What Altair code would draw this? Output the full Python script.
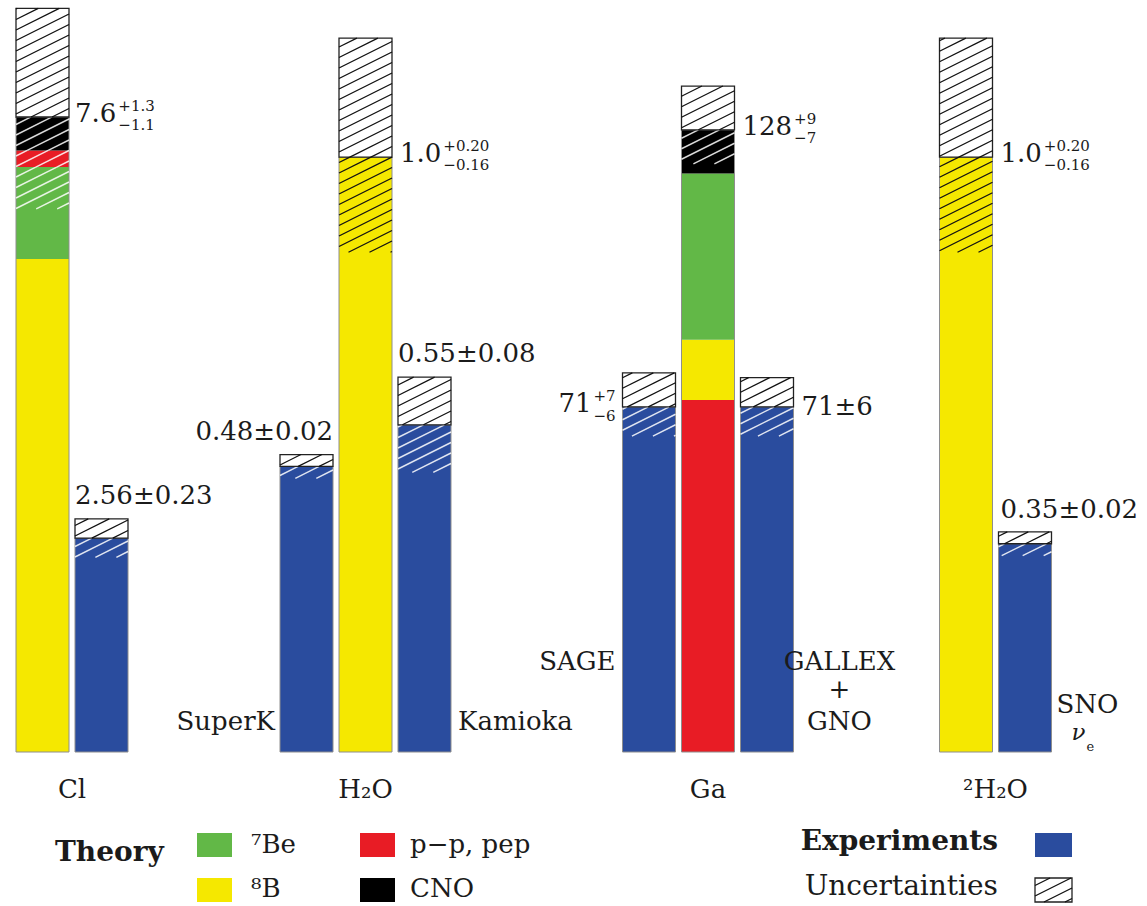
import math
import altair as alt
import pandas as pd

# ------------------------------------------------------------------ data
targets = ["Cl", "H2O", "Ga", "2H2O"]
target_labels = ["Cl", "H₂O", "Ga", "²H₂O"]
# value reached at the top of each target's column
# (SNU for Cl and Ga, fraction of the SSM flux for the water detectors)
frame_top = [9.0, 1.264, 154.7, 1.264]

# standard solar model predictions, components listed bottom to top
cl_parts = ["8B", "7Be", "pp", "CNO"]
cl_part_values = [5.9, 1.1, 0.2, 0.4]
h2o_parts = ["8B"]
h2o_part_values = [1.0]
ga_parts = ["pp", "8B", "7Be", "CNO"]
ga_part_values = [72.4, 12.4, 34.2, 9.0]
d2o_parts = ["8B"]
d2o_part_values = [1.0]

theory_total = [7.6, 1.0, 128, 1.0]
theory_err_up = [1.3, 0.20, 9, 0.20]
theory_err_dn = [1.1, 0.16, 7, 0.16]
theory_decimals = [1, 1, 0, 1]
theory_err_decimals = [1, 2, 0, 2]

# measurements
exp_ids = ["Homestake", "SuperK", "Kamioka", "SAGE", "GALLEX+GNO", "SNO"]
exp_target = ["Cl", "H2O", "H2O", "Ga", "Ga", "2H2O"]
exp_value = [2.56, 0.48, 0.55, 71, 71, 0.35]
exp_err_up = [0.23, 0.02, 0.08, 7, 6, 0.02]
exp_err_dn = [0.23, 0.02, 0.08, 6, 6, 0.02]
exp_decimals = [2, 2, 2, 0, 0, 2]

part_names = ["7Be", "8B", "pp", "CNO", "exp"]
part_colors = ["#62b847", "#f5e800", "#e81c25", "#000000", "#2a4c9e"]

# ------------------------------------------------------------------ layout
W, H = 1147, 906
BASE = 752                      # canvas px from the top down to the common bar base
TARGET_X = [72, 365.5, 708, 995.5]
THEORY_SLOT = [-0.5, 0, 0, -0.5]
EXP_SLOT = [0.5, -1, 1, -1, 1, 0.5]
PITCH, BAR_W = 59, 53
HATCH_SLOPE, HATCH_GAP = 0.5, 10.5
FONT = "DejaVu Serif"
INK = "#1b1b1b"
FS = 26        # main label size
FS_SMALL = 15  # exponent-style error labels

xs = alt.Scale(domain=[0, W], nice=False, zero=False)
ys = alt.Scale(domain=[BASE - H, BASE], nice=False, zero=False)

parts_by_target = [cl_parts, h2o_parts, ga_parts, d2o_parts]
values_by_target = [cl_part_values, h2o_part_values, ga_part_values, d2o_part_values]


def hgt(value, t):
    """Height of a value inside the column of target t."""
    return value / frame_top[t] * BASE


def hatch(x0, x1, y0, y1, ink):
    segs = []
    k0 = math.floor((y0 - HATCH_SLOPE * x1) / HATCH_GAP)
    k1 = math.ceil((y1 - HATCH_SLOPE * x0) / HATCH_GAP)
    for k in range(k0, k1 + 1):
        c = k * HATCH_GAP
        xa = max(x0, (y0 - c) / HATCH_SLOPE)
        xb = min(x1, (y1 - c) / HATCH_SLOPE)
        if xb - xa > 0.6:
            segs.append(dict(x=xa, y=c + HATCH_SLOPE * xa, x2=xb, y2=c + HATCH_SLOPE * xb, ink=ink))
    return segs


def fmt(v, d):
    return f"{v:.{d}f}"


rects, outlines, boxes, hatches = [], [], [], []
texts_left, texts_right, texts_center = [], [], []
small_left, small_right = [], []
nu_rows, sub_e = [], []

# theory columns
for t, name in enumerate(targets):
    cx = TARGET_X[t] + THEORY_SLOT[t] * PITCH
    x0, x1 = cx - BAR_W / 2, cx + BAR_W / 2
    acc = 0.0
    segs = []
    for p, v in zip(parts_by_target[t], values_by_target[t]):
        y0, y1 = hgt(acc, t), hgt(acc + v, t)
        rects.append(dict(x=x0, x2=x1, y=y0, y2=y1, part=p))
        segs.append((y0, y1, p))
        acc += v
    top = hgt(theory_total[t], t)
    lo = hgt(theory_total[t] - theory_err_dn[t], t)
    hi = hgt(theory_total[t] + theory_err_up[t], t)
    outlines.append(dict(x=x0, x2=x1, y=0, y2=top))
    for y0, y1, p in segs:
        a, b = max(y0, lo), min(y1, top)
        if b > a:
            hatches += hatch(x0, x1, a, b, "#000000" if p == "8B" else "#ffffff")
    boxes.append(dict(x=x0, x2=x1, y=top, y2=hi))
    hatches += hatch(x0, x1, top, hi, "#000000")
    main = fmt(theory_total[t], theory_decimals[t])
    lx = x1 + (6 if t == 0 else 8)
    texts_left.append(dict(x=lx, y=top + 3, text=main))
    ndig = sum(ch.isdigit() for ch in main)
    wmain = FS * (0.636 * ndig + 0.318 * (len(main) - ndig))
    small_left.append(dict(x=lx + wmain + 2, y=top + 11,
                           text="+" + fmt(theory_err_up[t], theory_err_decimals[t])))
    small_left.append(dict(x=lx + wmain + 2, y=top - 8,
                           text="−" + fmt(theory_err_dn[t], theory_err_decimals[t])))
    texts_center.append(dict(x=TARGET_X[t], y=-38, text=target_labels[t]))

# measured columns
for i, eid in enumerate(exp_ids):
    t = targets.index(exp_target[i])
    cx = TARGET_X[t] + EXP_SLOT[i] * PITCH
    x0, x1 = cx - BAR_W / 2, cx + BAR_W / 2
    top = hgt(exp_value[i], t)
    lo = hgt(exp_value[i] - exp_err_dn[i], t)
    hi = hgt(exp_value[i] + exp_err_up[i], t)
    rects.append(dict(x=x0, x2=x1, y=0, y2=top, part="exp"))
    outlines.append(dict(x=x0, x2=x1, y=0, y2=top))
    hatches += hatch(x0, x1, lo, top, "#ffffff")
    boxes.append(dict(x=x0, x2=x1, y=top, y2=hi))
    hatches += hatch(x0, x1, top, hi, "#000000")
    d = exp_decimals[i]
    sym = fmt(exp_value[i], d) + "±" + fmt(exp_err_up[i], d)
    if eid in ("Homestake", "Kamioka"):
        texts_left.append(dict(x=x0, y=hi + 23, text=sym))
    elif eid == "SNO":
        texts_left.append(dict(x=x0 + 2, y=hi + 22, text=sym))
    elif eid == "SuperK":
        texts_right.append(dict(x=x1, y=hi + 23, text=sym))
    elif eid == "GALLEX+GNO":
        texts_left.append(dict(x=x1 + 8, y=top, text=sym))
    elif eid == "SAGE":
        texts_right.append(dict(x=x0 - 31, y=top + 3, text=fmt(exp_value[i], d)))
        small_right.append(dict(x=x0 - 7, y=top + 11, text="+" + fmt(exp_err_up[i], d)))
        small_right.append(dict(x=x0 - 7, y=top - 9, text="−" + fmt(exp_err_dn[i], d)))

    # detector names
    if eid == "SuperK":
        texts_right.append(dict(x=x0 - 5, y=30, text="SuperK"))
    elif eid == "Kamioka":
        texts_left.append(dict(x=x1 + 7, y=30, text="Kamioka"))
    elif eid == "SAGE":
        texts_right.append(dict(x=x0 - 7, y=90, text="SAGE"))
    elif eid == "GALLEX+GNO":
        texts_center.append(dict(x=x1 + 46, y=90, text="GALLEX"))
        texts_center.append(dict(x=x1 + 46, y=62, text="+"))
        texts_center.append(dict(x=x1 + 46, y=30, text="GNO"))
    elif eid == "SNO":
        texts_left.append(dict(x=x1 + 5, y=47, text="SNO"))
        nu_rows.append(dict(x=x1 + 20, y=19, text="ν"))
        sub_e.append(dict(x=x1 + 35, y=5, text="e"))

# legend
legend_rects = [
    dict(x=197, x2=232, y=BASE - 857, y2=BASE - 833, part="7Be"),
    dict(x=197, x2=232, y=BASE - 902, y2=BASE - 878, part="8B"),
    dict(x=360, x2=395, y=BASE - 857, y2=BASE - 833, part="pp"),
    dict(x=360, x2=395, y=BASE - 902, y2=BASE - 878, part="CNO"),
    dict(x=1035, x2=1072, y=BASE - 857, y2=BASE - 833, part="exp"),
]
legend_box = [dict(x=1035, x2=1072, y=BASE - 902, y2=BASE - 878)]
hatches += hatch(1035, 1072, BASE - 902, BASE - 878, "#000000")
legend_labels = [
    dict(x=251, y=BASE - 845, text="⁷Be"),
    dict(x=251, y=BASE - 889, text="⁸B"),
    dict(x=410, y=BASE - 845, text="p−p, pep"),
    dict(x=410, y=BASE - 889, text="CNO"),
]
bold_left = [dict(x=55, y=BASE - 853, text="Theory")]
bold_right = [dict(x=998, y=BASE - 842, text="Experiments")]
plain_right = [dict(x=998, y=BASE - 887, text="Uncertainties")]


# ------------------------------------------------------------------ marks
def rect_layer(rows, **mark):
    return alt.Chart(pd.DataFrame(rows)).mark_rect(**mark).encode(
        x=alt.X("x:Q", scale=xs, axis=None), x2="x2:Q",
        y=alt.Y("y:Q", scale=ys, axis=None), y2="y2:Q")


def text_layer(rows, **mark):
    style = dict(font=FONT, fontSize=FS, color=INK, baseline="middle")
    style.update(mark)
    return alt.Chart(pd.DataFrame(rows)).mark_text(**style).encode(
        x=alt.X("x:Q", scale=xs, axis=None),
        y=alt.Y("y:Q", scale=ys, axis=None),
        text="text:N")


def rule_layer(df, **mark):
    return alt.Chart(df).mark_rule(**mark).encode(
        x=alt.X("x:Q", scale=xs, axis=None), x2="x2:Q",
        y=alt.Y("y:Q", scale=ys, axis=None), y2="y2:Q")


color = alt.Color("part:N", scale=alt.Scale(domain=part_names, range=part_colors), legend=None)

bars = rect_layer(rects + legend_rects).encode(color=color)
edges = rect_layer(outlines, fillOpacity=0, stroke="#8e8e8e", strokeWidth=1)
unc_boxes = rect_layer(boxes + legend_box, fill="white", stroke="#222222", strokeWidth=1.3)

hatch_df = pd.DataFrame(hatches)
white_lines = rule_layer(hatch_df[hatch_df.ink == "#ffffff"],
                         color="#ffffff", strokeWidth=1.4, opacity=0.85)
black_lines = rule_layer(hatch_df[hatch_df.ink == "#000000"],
                         color="#111111", strokeWidth=1.3)

layers = [
    bars, edges, white_lines, unc_boxes, black_lines,
    text_layer(texts_left, align="left"),
    text_layer(texts_right, align="right"),
    text_layer(texts_center, align="center"),
    text_layer(small_left, align="left", fontSize=FS_SMALL),
    text_layer(small_right, align="right", fontSize=FS_SMALL),
    text_layer(nu_rows, align="left", fontStyle="italic", fontSize=23),
    text_layer(sub_e, align="left", fontSize=13),
    text_layer(legend_labels, align="left"),
    text_layer(bold_left, align="left", fontWeight="bold", fontSize=28),
    text_layer(bold_right, align="right", fontWeight="bold", fontSize=28),
    text_layer(plain_right, align="right", fontSize=28),
]

chart = alt.layer(*layers).properties(
    width=W, height=H, padding=0,
    autosize=alt.AutoSizeParams(type="none"),
    background="white",
).configure_view(strokeWidth=0)

chart.save("out.html", embed_options={"renderer": "svg", "actions": False})
